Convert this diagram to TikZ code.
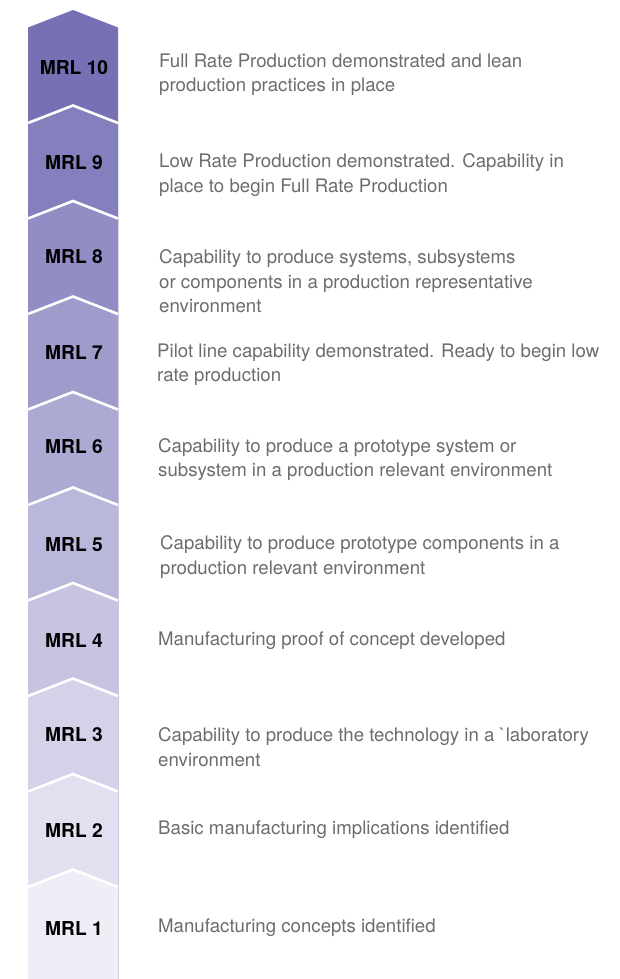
\documentclass[tikz,border=0pt]{standalone}
\usepackage{fontspec}
\setmainfont{TeX Gyre Heros}[Ligatures=TeXOff]
\definecolor{topc}{RGB}{118,112,181}
\definecolor{botc}{RGB}{238,238,247}
\definecolor{txt}{RGB}{108,108,108}
\begin{document}
\begin{tikzpicture}[x=1pt,y=-1pt,
  lvl/.style={font=\bfseries\fontsize{19.2}{22}\selectfont, text=black, inner sep=0pt},
  desc/.style={font=\fontsize{18.65}{24.5}\selectfont, text=txt, anchor=west, align=left, inner sep=0pt},
  sepline/.style={draw=white, line width=2.6pt, line join=miter}]
\useasboundingbox (0,0) rectangle (619,979);
% segments, from top to bottom (lower ones overlap)
\foreach \i in {10,9,...,1} {
  \pgfmathsetmacro\ap{10+(10-\i)*95.5}
  \pgfmathtruncatemacro\pct{(\i-1)/9*100}
  \fill[topc!\pct!botc] (28,\ap+17.5) -- (73,\ap) -- (118,\ap+17.5) -- (118,979) -- (28,979) -- cycle;
}
\foreach \i in {1,...,9} {
  \pgfmathsetmacro\ap{10+(10-\i)*95.5}
  \draw[sepline] (28,\ap+17.5) -- (73,\ap) -- (118,\ap+17.5);
}
% level labels
\node[lvl] (l10) at (74,68) {MRL 10};
\node[lvl] (l9) at (74,163) {MRL 9};
\node[lvl] (l8) at (74,257) {MRL 8};
\node[lvl] (l7) at (74,352) {MRL 7};
\node[lvl] (l6) at (74,447) {MRL 6};
\node[lvl] (l5) at (74,545) {MRL 5};
\node[lvl] (l4) at (74,640) {MRL 4};
\node[lvl] (l3) at (74,735) {MRL 3};
\node[lvl] (l2) at (74,830) {MRL 2};
\node[lvl] (l1) at (74,928) {MRL 1};
% descriptions
\node[desc] (d10) at (159,74.5) {Full Rate Production demonstrated and lean\\production practices in place};
\node[desc] (d9) at (159,175) {Low Rate Production demonstrated. Capability in\\place to begin Full Rate Production};
\node[desc] (d8) at (159,281.5) {Capability to produce systems, subsystems\\or components in a production representative\\environment};
\node[desc] (d7) at (157,364.5) {Pilot line capability demonstrated. Ready to begin low\\rate production};
\node[desc] (d6) at (158,459.5) {Capability to produce a prototype system or\\subsystem in a production relevant environment};
\node[desc] (d5) at (160,557) {Capability to produce prototype components in a\\production relevant environment};
\node[desc] (d4) at (158,641) {Manufacturing proof of concept developed};
\node[desc] (d3) at (158,747) {Capability to produce the technology in a `laboratory\\environment};
\node[desc] (d2) at (158,830) {Basic manufacturing implications identified};
\node[desc] (d1) at (158,928) {Manufacturing concepts identified};
\end{tikzpicture}
\end{document}
